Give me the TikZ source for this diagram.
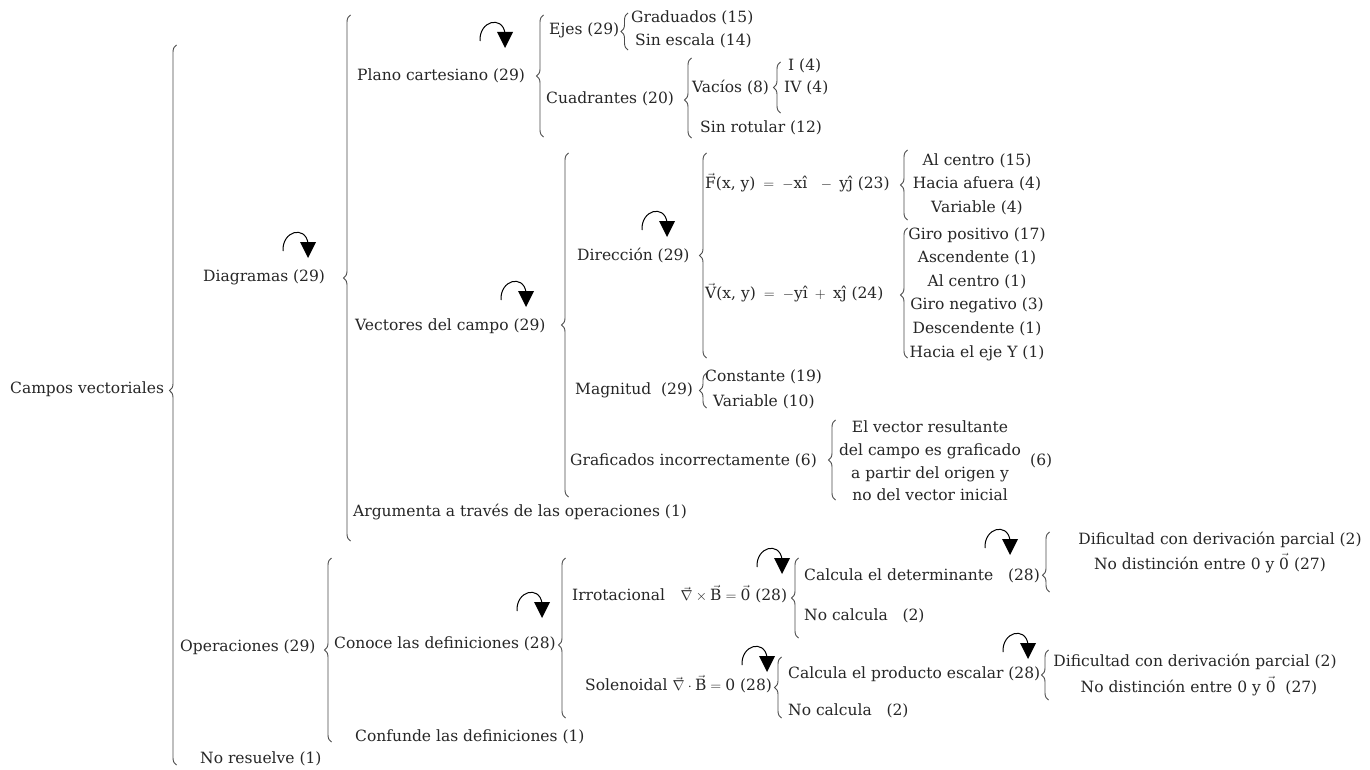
\documentclass[tikz,border=0pt]{standalone}
\usepackage{amsmath}
\usepackage{fontspec}
\setmainfont{DejaVu Serif}
\usetikzlibrary{decorations.pathreplacing}

\tikzset{
  turn/.pic={
    \draw[line width=1pt] (0,0) .. controls (-1,-20) and (22,-26) .. (25,-8);
    \fill (17,-9) -- (33,-9) -- (25,7) -- cycle;
  }
}

\begin{document}
\begin{tikzpicture}[x=1pt,y=-1pt,font=\fontsize{15.5}{23.6}\selectfont,
  lb/.style={anchor=west,inner sep=0pt,text height=11pt,text depth=3.5pt,text=black!85},
  ls/.style={anchor=center,inner sep=0pt,align=center,text=black!85},
  brc/.style={draw=black!70,line width=0.9pt,decorate,decoration={brace,amplitude=7pt,aspect=#1}},
  brc/.default=0.5]
  \useasboundingbox[fill=white] (0,0) rectangle (1370,770);

  % nivel 0 y 1
  \node[lb] (cv) at (10,390) {Campos vectoriales};
  \node[lb] (dia) at (203,278) {Diagramas (29)};
  \node[lb] (ope) at (180,648) {Operaciones (29)};
  \node[lb] (nor) at (200,760) {No resuelve (1)};

  % diagramas
  \node[lb] (pla) at (357,77) {Plano cartesiano (29)};
  \node[lb] (vec) at (355,327) {Vectores del campo (29)};
  \node[lb] (arg) at (353,513) {Argumenta a través de las operaciones (1)};

  \node[lb] (eje) at (549,31) {Ejes (29)};
  \node[lb] (gra) at (631,19) {Graduados (15)};
  \node[lb] (sesc) at (635,42) {Sin escala (14)};
  \node[lb] (cua) at (546,100) {Cuadrantes (20)};
  \node[lb] (vac) at (692,89) {Vacíos (8)};
  \node[lb] (q1) at (788,67) {I (4)};
  \node[lb] (q4) at (784,89) {IV (4)};
  \node[lb] (srot) at (700,129) {Sin rotular (12)};

  \node[lb] (dir) at (577,257) {Dirección (29)};
  \node[lb] (fxy) at (705,185) {$\vec{\text{F}}\text{(x, y)}\;=\;-\text{xî}\;\;\,-\;\text{yĵ}$ (23)};
  \node[ls] (fl) at (977,184) {Al centro (15)\\Hacia afuera (4)\\Variable (4)};
  \node[lb] (vxy) at (705,295) {$\vec{\text{V}}\text{(x, y)}\;=\;-\text{yî}\;+\;\text{xĵ}$ (24)};
  \node[ls] (vl) at (977,294) {Giro positivo (17)\\Ascendente (1)\\Al centro (1)\\Giro negativo (3)\\Descendente (1)\\Hacia el eje Y (1)};
  \node[lb] (mag) at (575,391) {Magnitud\ \ (29)};
  \node[lb] (cons) at (705,378) {Constante (19)};
  \node[lb] (varb) at (713,403) {Variable (10)};
  \node[lb] (grf) at (570,462) {Graficados incorrectamente (6)};
  \node[ls,font=\fontsize{15.5}{22.7}\selectfont] (grl) at (930,461) {El vector resultante\\del campo es graficado\\a partir del origen y\\no del vector inicial};
  \node[lb] (g6) at (1030,462) {(6)};

  % operaciones
  \node[lb] (con) at (334,645) {Conoce las definiciones (28)};
  \node[lb] (cnf) at (355,738) {Confunde las definiciones (1)};
  \node[lb] (irr) at (572,597) {Irrotacional\quad$\vec{\nabla}\times\vec{\text{B}} = \vec{\text{0}}$ (28)};
  \node[lb] (sol) at (585,687) {Solenoidal $\vec{\nabla}\cdot\vec{\text{B}} = \text{0}$ (28)};
  \node[lb] (cdet) at (804,577) {Calcula el determinante\ \ \ (28)};
  \node[lb] (nc1) at (804,617) {No calcula\ \ \ (2)};
  \node[lb] (cpro) at (788,675) {Calcula el producto escalar (28)};
  \node[lb] (nc2) at (788,712) {No calcula\ \ \ (2)};
  \node[ls] (dif1) at (1220,540) {Dificultad con derivación parcial (2)};
  \node[ls] (nd1) at (1210,563) {No distinción entre 0 y $\vec{\text{0}}$ (27)};
  \node[ls] (dif2) at (1195,662) {Dificultad con derivación parcial (2)};
  \node[ls] (nd2) at (1199,686) {No distinción entre 0 y $\vec{\text{0}}$\ \ (27)};

  % llaves
  \draw[brc=0.52] (176.5,765) -- (176.5,45);
  \draw[brc] (350.5,541) -- (350.5,15);
  \draw[brc] (331.5,742) -- (331.5,558);
  \draw[brc] (543.5,137) -- (543.5,15);
  \draw[brc] (628,50) -- (628,13);
  \draw[brc=0.475] (691.5,138) -- (691.5,58);
  \draw[brc] (780.5,113) -- (780.5,62);
  \draw[brc] (568.5,497) -- (568.5,153);
  \draw[brc] (706.5,358) -- (706.5,153);
  \draw[brc] (907.5,220) -- (907.5,150);
  \draw[brc=0.485] (907.5,358) -- (907.5,228);
  \draw[brc] (706.5,408) -- (706.5,373);
  \draw[brc] (835.5,500) -- (835.5,420);
  \draw[brc=0.456] (565.5,718) -- (565.5,558);
  \draw[brc] (798.5,638) -- (798.5,558);
  \draw[brc] (781.5,718) -- (781.5,657);
  \draw[brc=0.28] (1049.5,592) -- (1049.5,532);
  \draw[brc] (1048.5,700) -- (1048.5,650);

  % flechas de giro
  \pic at (283,251) {turn};
  \pic at (480,41) {turn};
  \pic at (501,300) {turn};
  \pic at (642,230) {turn};
  \pic at (517,611) {turn};
  \pic at (757,567) {turn};
  \pic at (742,665) {turn};
  \pic at (985,548) {turn};
  \pic at (1003,652) {turn};
\end{tikzpicture}
\end{document}
